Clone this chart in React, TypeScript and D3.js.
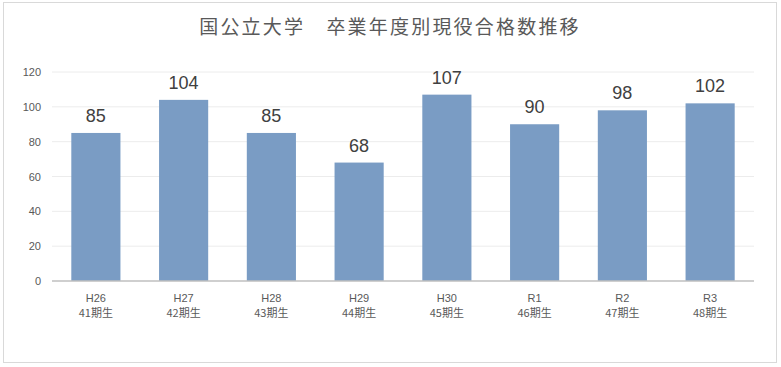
import React from "react";
import * as d3 from "d3";

const years = ["H26", "H27", "H28", "H29", "H30", "R1", "R2", "R3"];
const cohorts = ["41期生", "42期生", "43期生", "44期生", "45期生", "46期生", "47期生", "48期生"];
const values = [85, 104, 85, 68, 107, 90, 98, 102];
const yTicks = [0, 20, 40, 60, 80, 100, 120];
const title = "国公立大学　卒業年度別現役合格数推移";

const W = 781;
const H = 367;
const left = 52;
const right = 754;
const top = 72;
const bottom = 281;

export default function App() {
  const x = d3.scaleBand<number>().domain(d3.range(values.length)).range([left, right]).paddingInner(0.44).paddingOuter(0.22);
  const y = d3.scaleLinear().domain([0, 120]).range([bottom, top]);
  const font = "'Liberation Sans', 'Noto Sans CJK JP', sans-serif";
  return (
    <svg width={W} height={H} style={{ position: "absolute", left: 0, top: 0 }} fontFamily={font}>
      <rect x={0} y={0} width={W} height={H} fill="#fff" />
      <rect x={3.5} y={2.5} width={773} height={360} fill="#fff" stroke="#d9d9d9" />
      <text x={390} y={34} textAnchor="middle" fontSize={19} fill="#595959" letterSpacing={2.2} fontFamily="'Noto Sans CJK JP', sans-serif">{title}</text>
      {yTicks.map((t) => (
        <g key={t}>
          {t > 0 && <line x1={left} x2={right} y1={y(t)} y2={y(t)} stroke="#ececec" />}
          <text x={41} y={y(t) + 4} textAnchor="end" fontSize={11} fill="#595959">{t}</text>
        </g>
      ))}
      {values.map((v, i) => (
        <g key={i}>
          <rect x={x(i)} y={y(v)} width={x.bandwidth()} height={bottom - y(v)} fill="#7a9cc4" />
          <text x={x(i)! + x.bandwidth() / 2} y={y(v) - 11} textAnchor="middle" fontSize={18} fill="#404040">{v}</text>
          <text x={x(i)! + x.bandwidth() / 2} y={302} textAnchor="middle" fontSize={11} fill="#595959">{years[i]}</text>
          <text x={x(i)! + x.bandwidth() / 2} y={317} textAnchor="middle" fontSize={11} fill="#595959" fontFamily="'Noto Sans CJK JP', sans-serif">{cohorts[i]}</text>
        </g>
      ))}
      <line x1={left} x2={right} y1={bottom} y2={bottom} stroke="#bfbfbf" strokeWidth={1.5} />
    </svg>
  );
}
